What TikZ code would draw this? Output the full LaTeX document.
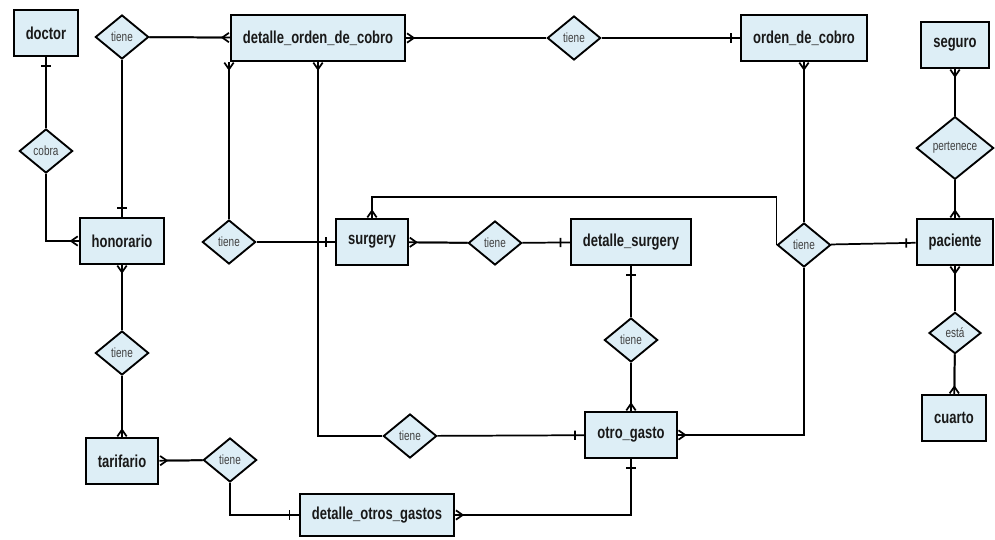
\documentclass[tikz,border=0pt]{standalone}
\usepackage{fontspec}
\newfontfamily\erfont[FakeStretch=0.75]{Liberation Sans}
\usetikzlibrary{shapes.geometric,arrows.meta,decorations.markings}
\definecolor{erfill}{RGB}{221,238,246}
\tikzset{
  entity/.style={draw, fill=erfill, line width=1.6pt, inner xsep=9pt, minimum height=34pt,
    text=black!90, font=\erfont\bfseries\fontsize{13}{15}\selectfont},
  rel/.style={diamond, draw, fill=erfill, line width=1.4pt, minimum width=40pt, minimum height=33pt,
    inner sep=0pt, text=black!75, font=\erfont\fontsize{10}{12}\selectfont},
  many/.style={-{Straight Barb[reversed,length=5pt,width=7pt]}, postaction={draw,-}},
  bar at/.style={postaction={decorate}, decoration={markings,
    mark=at position #1 with {\draw[-] (0,-3.5pt) -- (0,3.5pt);}}},
  one/.style={bar at=-7pt},
  one start/.style={bar at=7pt},
}
\begin{document}
\begin{tikzpicture}[x=0.75pt, y=-0.75pt, line width=1.3pt]
    \useasboundingbox (0,0) rectangle (995,539);

    % entidades
    \node[entity] (doctor) at (46,33) {doctor};
    \node[entity] (dodc) at (318,38) {detalle\_orden\_de\_cobro};
    \node[entity] (odc) at (804,38) {orden\_de\_cobro};
    \node[entity] (seguro) at (955,45) {seguro};
    \node[entity] (honorario) at (122,241) {honorario};
    \node[entity] (surgery) at (372,242) {surgery};
    \node[entity] (dsurgery) at (631,242) {detalle\_surgery};
    \node[entity] (paciente) at (955,242) {paciente};
    \node[entity] (cuarto) at (954,418) {cuarto};
    \node[entity] (ogasto) at (631,435) {otro\_gasto};
    \node[entity] (tarifario) at (122,461) {tarifario};
    \node[entity, minimum height=31pt] (dog) at (377,515) {detalle\_otros\_gastos};

    % relaciones
    \node[rel] (r1) at (122,37) {tiene};
    \node[rel] (r2) at (574,38) {tiene};
    \node[rel] (cobra) at (46,151) {cobra};
    \node[rel, minimum width=58pt, minimum height=47pt] (pertenece) at (955,148) {pertenece};
    \node[rel] (r3) at (229,242) {tiene};
    \node[rel] (r4) at (495,243) {tiene};
    \node[rel] (r5) at (804,245) {tiene};
    \node[rel] (r6) at (631,340) {tiene};
    \node[rel, minimum width=39pt, minimum height=31pt] (esta) at (955,333) {está};
    \node[rel] (r7) at (122,353) {tiene};
    \node[rel] (r8) at (410,436) {tiene};
    \node[rel] (r9) at (230,460) {tiene};

    % conectores
    \draw[one] (cobra) -- (doctor);
    \draw[many] (cobra) |- (honorario);
    \draw[one] (r1) -- (honorario);
    \draw[many] (r1) -- (dodc);
    \draw[many] (r2) -- (dodc);
    \draw[one] (r2) -- (odc);
    \draw[many] (r3.north) -- (r3.north |- dodc.south);
    \draw[one] (r3) -- (surgery);
    \draw[many] (r8) -| (dodc);
    \draw[one] (r8) -- (ogasto);
    \draw[many] (r4) -- (surgery);
    \draw[one] (r4) -- (dsurgery);
    \draw[one] (r6) -- (dsurgery);
    \draw[many] (r6) -- (ogasto);
    \draw[many] (r5) |- (ogasto);
    \draw[many] (r5) -- (odc);
    \draw[one] (r5) -- (paciente);
    \draw[many] (r5.west) -- ++(0,-48) -| (surgery);
    \draw[many] (pertenece) -- (seguro);
    \draw[many] (pertenece) -- (paciente);
    \draw[many] (esta) -- (paciente);
    \draw[many] (esta) -- (cuarto);
    \draw[many] (r7) -- (honorario);
    \draw[many] (r7) -- (tarifario);
    \draw[many] (r9) -- (tarifario);
    \draw[one] (r9) |- (dog);
    \draw[many, one start] (ogasto) |- (dog);
\end{tikzpicture}
\end{document}
